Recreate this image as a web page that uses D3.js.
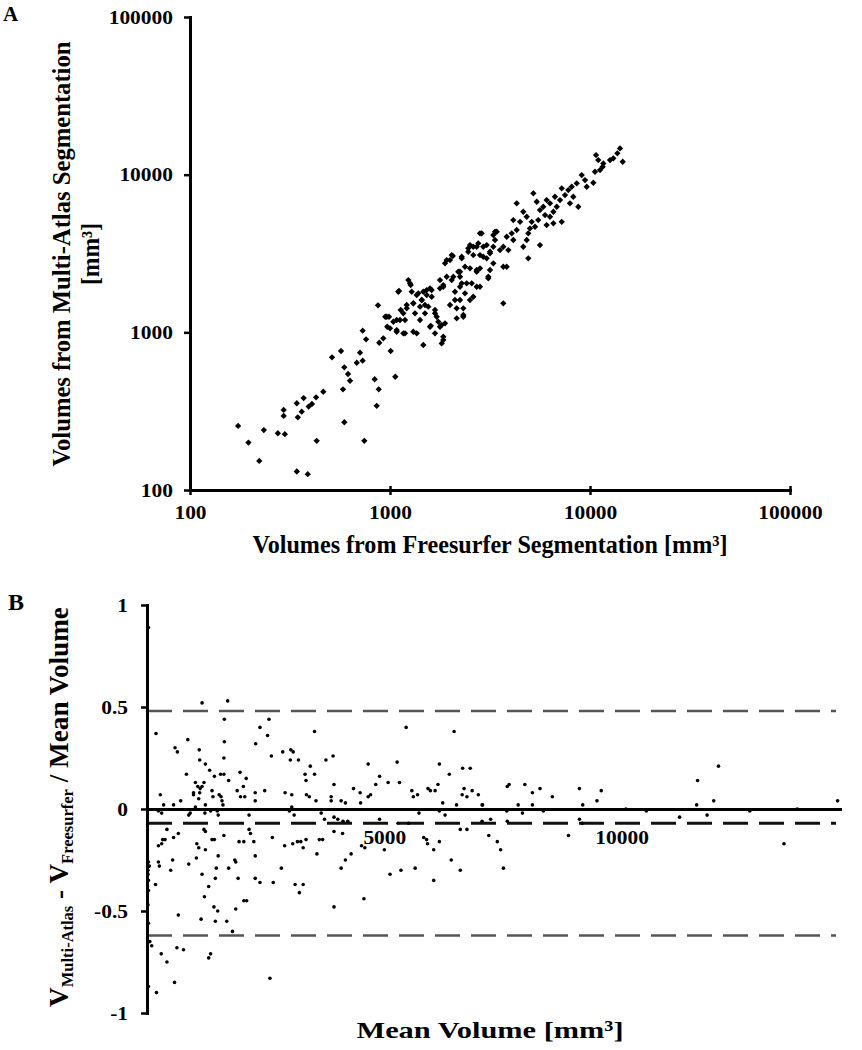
<!DOCTYPE html>
<html><head><meta charset="utf-8">
<script src="https://cdn.jsdelivr.net/npm/d3@7"></script>
<style>
body{margin:0;background:#fff}
svg{display:block}
text{font-family:"Liberation Serif","Times New Roman",serif;font-weight:bold;fill:#000}
</style>
</head><body>
<svg id="c" width="862" height="1050"></svg>
<script>
// ---------- Panel A data (mm^3) ----------
const freesurferVol = [174,196,222,234,275,298,294,294,342,346,362,370,392,407,427,464,342,388,430,513,569,591,617,631,582,591,682,708,730,730,759,744,838,878,858,871,884,926,947,969,989,1008,1063,1080,1100,1080,1131,1166,1189,1212,1235,1269,1308,1334,1360,1385,1413,1441,1468,1496,1526,1554,1585,1616,1679,1712,1778,1813,1847,1884,1778,1847,1921,1995,2035,1921,2035,2155,2113,2195,2239,2284,2326,2326,2371,2463,2512,2562,2609,2713,2764,2818,2873,2927,3044,3101,3162,3286,3350,
14125,13700,14570,10720,11000,11660,12590,13080,11570,10590,11220,10390,9090,9440,9630,8580,8740,8100,7790,7500,7220,8250,7940,7080,6680,6820,6560,7220,6310,6070,5840,5960,5210,5415,5620,5510,5310,5110,4915,5010,4825,4640,5620,6070,6560,6310,4300,4640,4825,4470,4135,4300,4060,4135,3833,3686,3905,3548,3416,3350,3286,3162,3044,2818,2927,2818,2713,2609,2512,2463,3833,3686,3286,3162,3101,4915,3686,2818,2713,2512,2284,2239,2371,2060,1995,1884,2073,2239,2284,2418,2713,2609,2239,2113,2155,2326,1847,1778,1585,1616,1526,1468,1441,1496,1413,1360,1308,1284,1259,1110,1212,1166,1122,1039,963,1000,1080,1189,1308,1600,1679,1744,1813,1679,1847];
const multiAtlasVol = [255,200,153,240,229,226,322,295,355,289,314,383,338,351,387,420,131,126,205,694,761,600,544,493,435,269,641,743,661,1024,903,205,504,435,342,1483,859,916,1256,1085,1256,761,523,1034,1808,1197,1385,986,1197,1490,2146,1995,1527,1320,986,1767,1197,1603,831,1320,1854,1454,1085,1854,1385,1256,1085,851,894,1140,2146,1995,2252,1490,2146,2873,3090,1227,1603,2423,1946,3015,1256,1419,1767,3245,1603,2046,3490,2484,3667,1946,4244,3015,3578,2200,3245,4140,4345,
14680,13650,12080,13310,12380,11790,12380,12690,11220,10430,10690,8885,9940,9240,8380,8810,6260,8380,7980,7420,8190,7240,6580,6900,7240,6260,5820,5025,6580,6900,6260,5545,7610,6730,5965,5155,4675,5025,4244,4560,3850,3490,3578,4790,4910,5410,6580,5820,5410,5025,5155,4455,4244,3850,4040,3490,3325,3325,4345,3850,3490,3170,2946,3090,3490,4244,3490,3090,3578,3410,2606,2606,2739,2484,2252,2946,1527,2546,2423,2546,2946,2423,2606,3050,2873,2739,2252,2252,2046,2046,1946,1682,1603,1808,1419,1288,1946,1901,1901,1682,1724,1808,1603,1490,1454,1724,1527,1808,2046,1830,1419,1320,1197,1167,1256,1060,1009,986,1009,1100,1320,1167,1112,986,938];
const logTicks = [100, 1000, 10000, 100000];

// ---------- Panel B data ----------
const meanVol = [1160,1700,1630,190,2290,2380,2570,2540,3530,5460,6470,860,590,640,1630,1100,1110,1230,1320,830,1620,1620,1550,1420,1720,1960,2090,2620,2860,3030,3080,3020,3190,3770,3920,4660,5270,6160,6650,6810,6370,3440,3330,3530,3350,4900,5080,5320,4820,3940,4350,4490,4660,4710,5580,5610,5700,5920,5970,6070,6130,6680,6850,6640,6740,6980,6230,7070,1020,1070,1160,1120,1200,980,1110,980,1370,1520,1560,1390,1580,1090,1900,2030,1970,2060,2280,2280,2480,2910,3050,3360,3420,3560,3880,3880,4090,4180,4500,280,710,560,350,240,310,910,1020,1230,1220,1340,1480,1600,3050,3670,3000,
880,1500,2150,3100,3740,3940,4020,4130,4230,4900,5290,5510,5730,6160,6280,6520,7240,7060,420,660,560,380,310,240,330,1200,1230,1370,1420,1620,2150,2180,1940,2040,2250,2640,2900,3070,3170,3240,3290,3350,3630,3700,3940,4120,3580,1050,1090,1230,880,1040,1500,1870,1720,2280,4520,4590,5000,5830,5890,5910,6040,6160,6600,6740,7200,4300,4180,4090,2830,5120,5350,5650,6040,6600,6410,30,50,20,20,30,240,260,500,540,1160,1460,1440,1850,1920,1300,1210,2280,2380,2660,3120,3290,3210,2040,2100,1870,1410,1490,1440,1680,1140,660,1800,180,3940,4570,30,20,30,60,100,300,420,630,770,1340,1300,580,200,2590,30,30,
7060,7590,7630,7960,8120,8280,8540,9110,9570,9480,9180,7820,8120,7910,8350,7580,7590,7380,7450,7510,8880,9110,9170,10090,10520,11220,11580,11600,12040,11800,11940,12700,13420,13700,14550];
const relDiff = [0.52,0.53,0.44,0.37,0.32,0.40,0.44,0.36,0.38,0.40,0.38,0.34,0.30,0.28,0.33,0.29,0.24,0.22,0.19,0.17,0.25,0.17,0.17,0.16,0.14,0.18,0.15,0.26,0.28,0.29,0.28,0.24,0.24,0.24,0.26,0.22,0.23,0.22,0.20,0.20,0.17,0.21,0.17,0.17,0.14,0.16,0.13,0.13,0.12,0.12,0.10,0.08,0.06,0.07,0.09,0.06,0.07,0.10,0.09,0.09,0.12,0.10,0.09,0.07,0.06,0.07,0.03,0.02,0.13,0.11,0.11,0.10,0.13,0.08,0.08,0.07,0.09,0.07,0.06,0.06,0.04,0.05,0.09,0.11,0.06,0.06,0.08,0.04,0.09,0.08,0.07,0.07,0.06,0.04,0.06,0.04,0.04,0.03,0.03,0.07,0.04,0.02,0.02,-0.01,-0.02,-0.02,0.01,0.02,-0.02,-0.01,-0.01,0.02,0.01,-0.02,-0.01,
-0.03,-0.03,-0.03,-0.03,-0.05,-0.04,-0.05,-0.06,-0.06,-0.05,-0.07,-0.07,-0.02,-0.01,-0.03,0.02,-0.05,-0.06,-0.10,-0.12,-0.14,-0.15,-0.17,-0.18,-0.15,-0.10,-0.11,-0.15,-0.15,-0.13,-0.10,-0.12,-0.16,-0.16,-0.16,-0.14,-0.18,-0.17,-0.16,-0.16,-0.19,-0.15,-0.15,-0.15,-0.11,-0.12,-0.22,-0.17,-0.19,-0.20,-0.27,-0.24,-0.23,-0.26,-0.29,-0.23,-0.18,-0.19,-0.20,-0.14,-0.15,-0.17,-0.20,-0.16,-0.10,-0.10,-0.13,-0.22,-0.25,-0.29,-0.29,-0.32,-0.30,-0.29,-0.35,-0.30,-0.25,-0.26,-0.28,-0.30,-0.32,-0.40,-0.26,-0.28,-0.30,-0.25,-0.32,-0.29,-0.34,-0.25,-0.34,-0.38,-0.43,-0.34,-0.36,-0.36,-0.37,-0.37,-0.41,-0.45,-0.45,-0.49,-0.48,-0.50,-0.55,-0.55,-0.54,-0.52,-0.60,-0.37,-0.48,-0.44,-0.35,-0.47,-0.56,-0.65,-0.67,-0.71,-0.75,-0.68,-0.69,-0.71,-0.73,-0.85,-0.90,-0.83,-0.87,0.89,
0.02,0.11,0.12,0.12,0.08,0.10,0.06,0.10,0.09,0.04,0.02,0.02,0.02,-0.02,-0.01,-0.01,-0.06,-0.16,-0.20,-0.29,-0.13,-0.05,-0.07,0.00,-0.01,-0.04,0.02,0.14,0.21,-0.03,0.04,-0.01,-0.17,0.00,0.04];
const baTicksY = [-1, -0.5, 0, 0.5, 1];
const baTicksX = [5000, 10000];
const refLines = [0.48, -0.07, -0.62];   // upper LoA, mean difference, lower LoA

// ---------- drawing ----------
const svg = d3.select("#c");
const FONT = '"Liberation Serif","Times New Roman",serif';

function styleAxis(g, size) {
  g.attr("font-family", FONT).attr("font-size", size).attr("font-weight", "bold");
  g.select(".domain").attr("stroke", "#000").attr("stroke-width", 3).attr("stroke-linecap", "square");
  g.selectAll(".tick line").attr("stroke", "#000").attr("stroke-width", 2.5);
  g.selectAll(".tick text").attr("fill", "#000").each(function () {
    const w = this.getComputedTextLength();
    d3.select(this).attr("textLength", w * 1.1).attr("lengthAdjust", "spacingAndGlyphs");
  });
}

// Panel A
const xA = d3.scaleLog().domain([100, 100000]).range([190, 790]);
const yA = d3.scaleLog().domain([100, 100000]).range([490, 17]);

const diamond = d3.symbol().type(d3.symbolSquare).size(20)();
svg.append("g").selectAll("path").data(freesurferVol).join("path")
  .attr("d", diamond)
  .attr("transform", (d, i) => `translate(${xA(d)},${yA(multiAtlasVol[i])}) rotate(45)`)
  .attr("fill", "#000");

svg.append("g").attr("transform", "translate(190,0)")
  .call(d3.axisLeft(yA).tickValues(logTicks).tickFormat(d => String(d)).tickSize(6).tickSizeOuter(0).tickPadding(11))
  .call(g => styleAxis(g, 19.5));
svg.append("g").attr("transform", "translate(0,490)")
  .call(d3.axisBottom(xA).tickValues(logTicks).tickFormat(d => String(d)).tickSize(5).tickSizeOuter(0).tickPadding(10))
  .call(g => styleAxis(g, 19.5))
  .call(g => g.selectAll(".tick line").attr("y1", -4));

svg.append("text").attr("x", 3).attr("y", 21).attr("font-size", 21).text("A");
svg.append("text").attr("transform", "translate(70,254) rotate(-90)")
  .attr("text-anchor", "middle").attr("font-size", 25)
  .attr("textLength", 425).attr("lengthAdjust", "spacingAndGlyphs")
  .text("Volumes from Multi-Atlas Segmentation");
svg.append("text").attr("transform", "translate(99,254) rotate(-90)")
  .attr("text-anchor", "middle").attr("font-size", 25)
  .attr("textLength", 62).attr("lengthAdjust", "spacingAndGlyphs")
  .text("[mm³]");
svg.append("text").attr("x", 490).attr("y", 553)
  .attr("text-anchor", "middle").attr("font-size", 25)
  .attr("textLength", 475).attr("lengthAdjust", "spacingAndGlyphs")
  .text("Volumes from Freesurfer Segmentation [mm³]");

// Panel B
const xB = d3.scaleLinear().domain([0, 14600]).range([147, 840]);
const yB = d3.scaleLinear().domain([-1, 1]).range([1013, 605]);

const lineStyle = [{c: "#555", w: 2.5}, {c: "#111", w: 3}, {c: "#555", w: 2.5}];
svg.append("g").selectAll("line").data(refLines).join("line")
  .attr("x1", xB(0)).attr("x2", xB(14600) - 4)
  .attr("y1", d => yB(d)).attr("y2", d => yB(d))
  .attr("stroke", (d, i) => lineStyle[i].c)
  .attr("stroke-width", (d, i) => lineStyle[i].w)
  .attr("stroke-dasharray", "25,11");

svg.append("g").selectAll("circle").data(meanVol).join("circle")
  .attr("cx", d => xB(d)).attr("cy", (d, i) => yB(relDiff[i]))
  .attr("r", 1.8).attr("fill", "#000");

svg.append("g").attr("transform", `translate(0,${yB(0)})`)
  .call(d3.axisBottom(xB).tickValues(baTicksX).tickFormat(d => String(d)).tickSize(0).tickSizeOuter(0).tickPadding(21))
  .call(g => { styleAxis(g, 19.5); g.selectAll(".tick text").attr("fill", "#333"); });

svg.append("g").attr("transform", "translate(147,0)")
  .call(d3.axisLeft(yB).tickValues(baTicksY).tickFormat(d => String(d)).tickSize(6).tickSizeOuter(0).tickPadding(13))
  .call(g => styleAxis(g, 19.5));

svg.append("text").attr("x", 8).attr("y", 610).attr("font-size", 24).text("B");

const bt = svg.append("text").attr("transform", "translate(68,807) rotate(-90)")
  .attr("text-anchor", "middle");
const parts = [
  {t: "V", s: 28, dy: 0},
  {t: "Multi-Atlas", s: 17, dy: 5},
  {t: " - V", s: 28, dy: -5},
  {t: "Freesurfer", s: 17, dy: 5},
  {t: " / Mean Volume", s: 28, dy: -5}
];
const spans = bt.selectAll("tspan").data(parts).join("tspan")
  .attr("font-size", d => d.s).attr("dy", d => d.dy).text(d => d.t);
const len = bt.node().getComputedTextLength();
const k = 400 / len;
spans.attr("font-size", d => d.s * k).attr("dy", d => d.dy * k);

svg.append("text").attr("x", 490).attr("y", 1038)
  .attr("text-anchor", "middle").attr("font-size", 24)
  .attr("textLength", 267).attr("lengthAdjust", "spacingAndGlyphs")
  .text("Mean Volume [mm³]");
</script>
</body></html>
